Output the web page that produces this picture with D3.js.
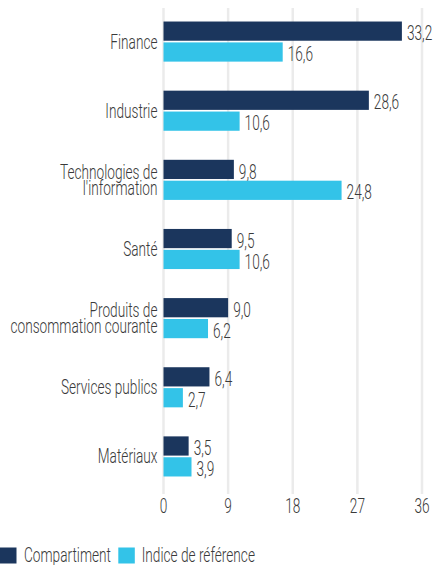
<!DOCTYPE html>
<html><head><meta charset="utf-8">
<script src="https://cdn.jsdelivr.net/npm/d3@7/dist/d3.min.js"></script>
<style>
html,body{margin:0;padding:0;background:#fff;}
svg{display:block;}
text{font-family:"Roboto","Liberation Sans",sans-serif;font-weight:300;fill:#3a3a3a;}
</style></head>
<body>
<svg id="c" width="433" height="565"></svg>
<script>
const categories = ["Finance","Industrie","Technologies de\nl'information","Santé","Produits de\nconsommation courante","Services publics","Matériaux"];
const seriesNames = ["Compartiment","Indice de référence"];
const fundValues = [33.2,28.6,9.8,9.5,9.0,6.4,3.5];
const indexValues = [16.6,10.6,24.8,10.6,6.2,2.7,3.9];
const tickValues = [0,9,18,27,36];
const colors = ["#1b365d","#33c3e8"];

const SX = 0.70; // horizontal squeeze to imitate condensed face
const FS = 19.5;
const svg = d3.select("#c");

const x = d3.scaleLinear().domain([0,36]).range([163.5,422]);
const y = d3.scaleBand().domain(categories).range([7,491]).paddingInner(0.42).paddingOuter(0.21);
const sub = d3.scaleBand().domain([0,1]).range([0,y.bandwidth()]).paddingInner(0.08);
const fmt = v => d3.format(".1f")(v).replace(".",",");

function txt(g, s, tx, ty, anchor, size){
  return g.append("text").attr("transform",`translate(${tx},${ty}) scale(${SX},1)`)
    .attr("text-anchor",anchor).attr("font-size",size||FS).text(s);
}

// grid
svg.append("g").selectAll("line").data(tickValues).join("line")
  .attr("x1",d=>x(d)).attr("x2",d=>x(d)).attr("y1",8).attr("y2",494)
  .attr("stroke","#ebebeb").attr("stroke-width",2.5);

// tick labels
const tg = svg.append("g");
tickValues.forEach(t=>txt(tg, String(t), x(t), 512.5, "middle"));

// bars
const data = categories.map((c,i)=>({c, vals:[fundValues[i], indexValues[i]]}));
const groups = svg.append("g").selectAll("g").data(data).join("g")
  .attr("transform",d=>`translate(0,${y(d.c)})`);
groups.each(function(d){
  const g = d3.select(this);
  d.vals.forEach((v,k)=>{
    g.append("rect").attr("x",x(0)).attr("y",sub(k)).attr("width",x(v)-x(0))
      .attr("height",sub.bandwidth()).attr("fill",colors[k]);
    txt(g, fmt(v), x(v)+5, sub(k)+sub.bandwidth()-0.5, "start");
  });
  const lines = d.c.split("\n");
  const cy = y.bandwidth()/2;
  const lh = 15.5;
  const first = cy + 7 - (lines.length-1)*lh/2;
  lines.forEach((l,j)=>txt(g, l, 157.5, first + j*lh, "end"));
});

// legend
const lg = svg.append("g");
lg.append("rect").attr("x",0).attr("y",547.5).attr("width",16.5).attr("height",16).attr("fill",colors[0]);
txt(lg, seriesNames[0], 24, 561.5, "start");
lg.append("rect").attr("x",118.3).attr("y",547.5).attr("width",16.5).attr("height",16).attr("fill",colors[1]);
txt(lg, seriesNames[1], 141.7, 561.5, "start");
</script>
</body></html>
